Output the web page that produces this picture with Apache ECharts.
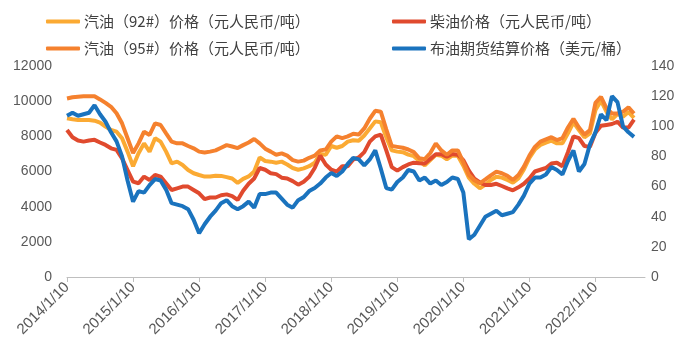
<!DOCTYPE html>
<html>
<head>
<meta charset="utf-8">
<script src="https://cdn.jsdelivr.net/npm/echarts@6/dist/echarts.min.js"></script>
<style>html,body{margin:0;padding:0;background:#fff}#c{width:681px;height:348px}</style>
</head>
<body>
<div id="c"></div>
<script>
// x = months since 2014/1/10 (one value per month)
const tickLabels = ['2014/1/10','2015/1/10','2016/1/10','2017/1/10','2018/1/10','2019/1/10','2020/1/10','2021/1/10','2022/1/10'];
const seriesNames = ['汽油（92#）价格（元人民币/吨）','柴油价格（元人民币/吨）','汽油（95#）价格（元人民币/吨）','布油期货结算价格（美元/桶）'];

const gas92 = [9025,8970,8930,8930,8930,8890,8780,8550,8360,8265,7890,7130,6300,7035,7600,7130,7890,7700,7130,6465,
  6560,6370,6085,5900,5800,5710,5710,5760,5750,5680,5600,5350,5580,5720,6000,6800,6600,6560,6500,6560,
  6400,6200,6100,6180,6300,6500,7000,6950,7450,7350,7450,7700,7780,7750,8050,8450,8850,8800,7950,7200,
  7130,7100,6960,6870,6600,6350,6650,6950,6900,6700,6900,6900,6330,5650,5300,5050,5250,5516,5706,5650,
  5516,5370,5611,6120,6780,7250,7507,7640,7750,7600,7600,8170,8800,8360,7940,8170,9500,10030,9400,8960,
  9270,9118,9380,9050];
const diesel = [8360,7950,7760,7700,7760,7800,7650,7510,7320,7225,6750,6085,5420,5330,5710,5520,5800,5710,5330,4950,
  5045,5140,5140,4950,4760,4430,4520,4520,4650,4700,4600,4380,4900,5300,5600,6200,6100,5900,5850,5650,
  5600,5450,5250,5420,5700,6200,6900,6400,6100,5990,6300,6300,6680,6800,7100,7700,8000,8100,7200,6250,
  6050,6250,6400,6500,6470,6450,6720,6980,6980,6840,7000,6950,6650,6050,5600,5380,5230,5232,5300,5175,
  5043,4930,5100,5300,5600,6000,6100,6200,6450,6500,6300,7100,8000,7900,7450,7400,8200,8600,8650,8700,
  8830,8500,8500,8950];
const gas95 = [10150,10220,10250,10280,10280,10280,10100,9900,9680,9310,8740,7890,7050,7600,8264,8076,8740,8645,8170,7700,
  7600,7600,7450,7320,7130,7080,7130,7200,7350,7500,7420,7330,7500,7650,7850,7600,7300,7130,6950,7030,
  6900,6650,6560,6620,6780,6900,7200,7250,7700,8000,7900,8000,8150,8100,8450,9000,9450,9400,8400,7450,
  7400,7350,7250,7100,6750,6700,7050,7600,7200,6950,7200,7200,6520,5800,5500,5330,5550,5780,5990,5900,
  5750,5520,5800,6280,6900,7400,7700,7830,7950,7790,7900,8500,9000,8500,8100,8350,9900,10250,9600,9300,
  9300,9400,9650,9300];
const brent = [107,109,107,108,109,114,108,103,96,90,80,64,50,57,56,61,65,64,58,49,
  48,47,45,38,29,35,40,44,49,51,47,45,47,50,46,55,55,56,56,52,
  48,46,51,53,57,59,62,66,69,67,70,75,79,78,74,78,84,72,59,58,
  63,66,71,70,64,66,62,64,61,63,66,65,56,25,28,34,40,42,44,41,
  42,43,48,54,62,66,66,68,73,71,68,77,84,70,75,88,96,108,104,120,
  116,100,96,93];

const colors = ['#FBAA33','#E04A2E','#F5812E','#1A73BE'];
const tickPos = tickLabels.map((_, i) => i * 12);
const toXY = arr => arr.map((v, i) => [i, v]);
const font = '"Liberation Sans", Arial, "Noto Sans CJK SC", sans-serif';

const chart = echarts.init(document.getElementById('c'), null, {renderer: 'canvas'});
const legendBase = {
  orient: 'vertical', top: 9, itemWidth: 34, itemHeight: 4, itemGap: 12, icon: 'roundRect',
  textStyle: {fontSize: 15, color: '#404040', fontFamily: '"Noto Sans CJK SC", sans-serif', padding: [0,0,0,-1]}
};
chart.setOption({
  animation: false,
  color: colors,
  legend: [
    Object.assign({}, legendBase, {left: 41, data: [seriesNames[0], seriesNames[2]]}),
    Object.assign({}, legendBase, {left: 387, data: [seriesNames[1], seriesNames[3]]})
  ],
  grid: {left: 67, right: 36, top: 66, bottom: 71},
  xAxis: {
    type: 'value', min: 0, max: 105, interval: 12,
    splitLine: {show: false},
    axisLine: {show: true, lineStyle: {color: '#BFBFBF', width: 1}},
    axisTick: {show: true, customValues: tickPos, length: 5, lineStyle: {color: '#BFBFBF'}},
    axisLabel: {
      customValues: tickPos, rotate: 45, fontSize: 15, color: '#595959', fontFamily: font, margin: 8,
      formatter: v => tickLabels[Math.round(v / 12)] || ''
    }
  },
  yAxis: [
    {type: 'value', min: 0, max: 12000, interval: 2000, splitLine: {show: false},
     axisLine: {show: false}, axisTick: {show: false},
     axisLabel: {fontSize: 14, color: '#595959', fontFamily: font, margin: 15, formatter: v => String(v)}},
    {type: 'value', min: 0, max: 140, interval: 20, splitLine: {show: false},
     axisLine: {show: false}, axisTick: {show: false},
     axisLabel: {fontSize: 14, color: '#595959', fontFamily: font, margin: 6, formatter: v => String(v)}}
  ],
  series: [
    {name: seriesNames[0], type: 'line', data: toXY(gas92), showSymbol: false, lineStyle: {width: 4}},
    {name: seriesNames[1], type: 'line', data: toXY(diesel), showSymbol: false, lineStyle: {width: 4}},
    {name: seriesNames[2], type: 'line', data: toXY(gas95), showSymbol: false, lineStyle: {width: 4}},
    {name: seriesNames[3], type: 'line', yAxisIndex: 1, data: toXY(brent), showSymbol: false, lineStyle: {width: 4}}
  ]
});
</script>
</body>
</html>
